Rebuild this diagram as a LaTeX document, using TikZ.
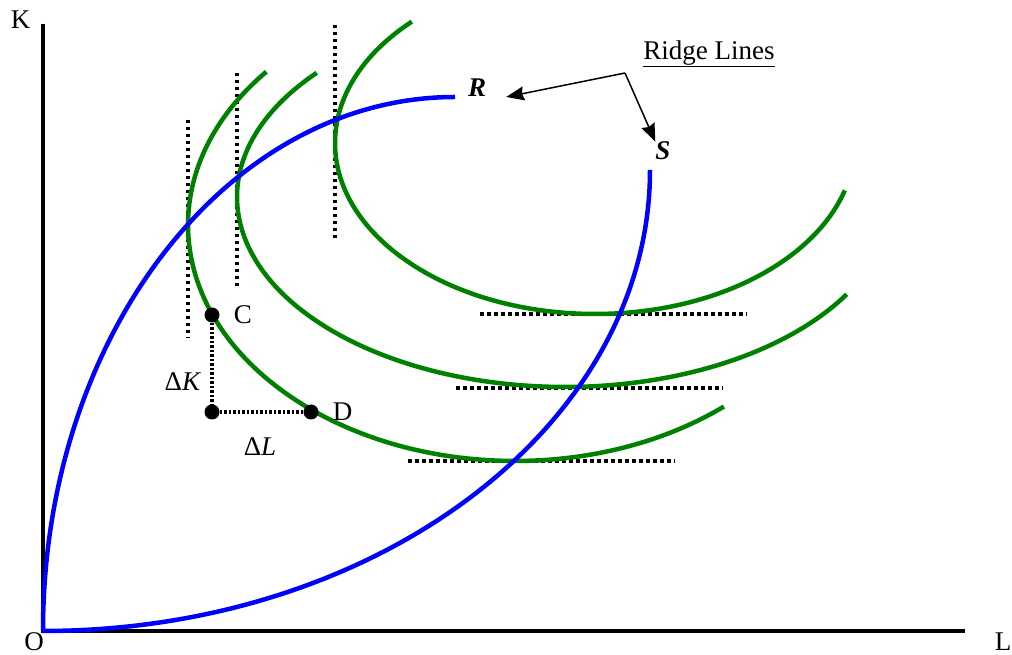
\documentclass[tikz,border=0pt]{standalone}
\usepackage{fontspec}
\setmainfont{Liberation Serif}
\usetikzlibrary{arrows.meta,positioning}
\definecolor{isoquant}{RGB}{0,128,0}
\definecolor{ridge}{RGB}{0,0,255}

\begin{document}
\begin{tikzpicture}[
    x=1pt, y=1pt,
    lbl/.style={font=\fontsize{27}{32}\selectfont, inner sep=0pt},
    axis/.style={line width=3.2pt, black},
    iso/.style={line width=4.5pt, isoquant},
    ridgeline/.style={line width=4.5pt, ridge},
    tangent/.style={line width=3.2pt, dash pattern=on 3.5pt off 3.5pt},
    gap/.style={line width=3.5pt, dash pattern=on 2.5pt off 2pt},
    dot/.style={circle, fill=black, inner sep=0pt, minimum size=15pt},
    arr/.style={-{Stealth[length=18pt, width=14pt, inset=2pt]}, line width=1.5pt}
]
\useasboundingbox (0,0) rectangle (1012,655);

% axes
\coordinate (origin) at (43,24);
\coordinate (ytop) at (43,631);
\coordinate (xend) at (965,24);
\draw[axis] (ytop) -- (origin) -- (xend);

\node[lbl] (klabel) at (20.5,635.5) {K};
\node[lbl] (olabel) at (34,13) {O};
\node[lbl] (llabel) at (1003,13) {L};

% tangency guides
\draw[tangent] (188,535) -- (188,317);
\draw[tangent] (237,582) -- (237,366);
\draw[tangent] (335,630) -- (335,414);
\draw[tangent] (408,194) -- (675,194);
\draw[tangent] (456,267) -- (723,267);
\draw[tangent] (480,341) -- (747,341);

% isoquants
\draw[iso] ([shift={(515,430)}]139.5:327 and 236) arc[start angle=139.5, end angle=309.7, x radius=327, y radius=236];
\draw[iso] ([shift={(565,458)}]139.2:328 and 190) arc[start angle=139.2, end angle=329.2, x radius=328, y radius=190];
\draw[iso] ([shift={(595,512)}]134.8:260 and 171) arc[start angle=134.8, end angle=343.9, x radius=260, y radius=171];

% ridge lines
\draw[ridgeline] (origin) arc[start angle=180, end angle=90, x radius=412, y radius=534];
\draw[ridgeline] (origin) arc[start angle=270, end angle=360, x radius=607, y radius=461];

\node[lbl] (rlabel) at (477,567) {\textbf{\textit{R}}};
\node[lbl] (slabel) at (663,504) {\textbf{\textit{S}}};
\node[lbl] (ridgetitle) at (709,601) {\underline{Ridge Lines}};
\coordinate (joint) at (625,582);
\draw[arr] (joint) -- ([shift={(20pt,-9pt)}]rlabel.east);
\draw[arr] (joint) -- (slabel.north west);

% substitution between C and D
\node[dot] (cpt) at (212,340) {};
\node[dot] (dpt) at (311,243) {};
\node[dot] (corner) at (212,243) {};
\draw[gap] (cpt) -- (corner);
\draw[gap] (corner) -- (dpt);
\node[lbl, right=14pt of cpt] (clabel) {C};
\node[lbl, right=14pt of dpt] (dlabel) {D};
\node[lbl] (dk) at (183,273) {Δ\textit{K}};
\node[lbl] (dl) at (260,208) {Δ\textit{L}};

\end{tikzpicture}
\end{document}
